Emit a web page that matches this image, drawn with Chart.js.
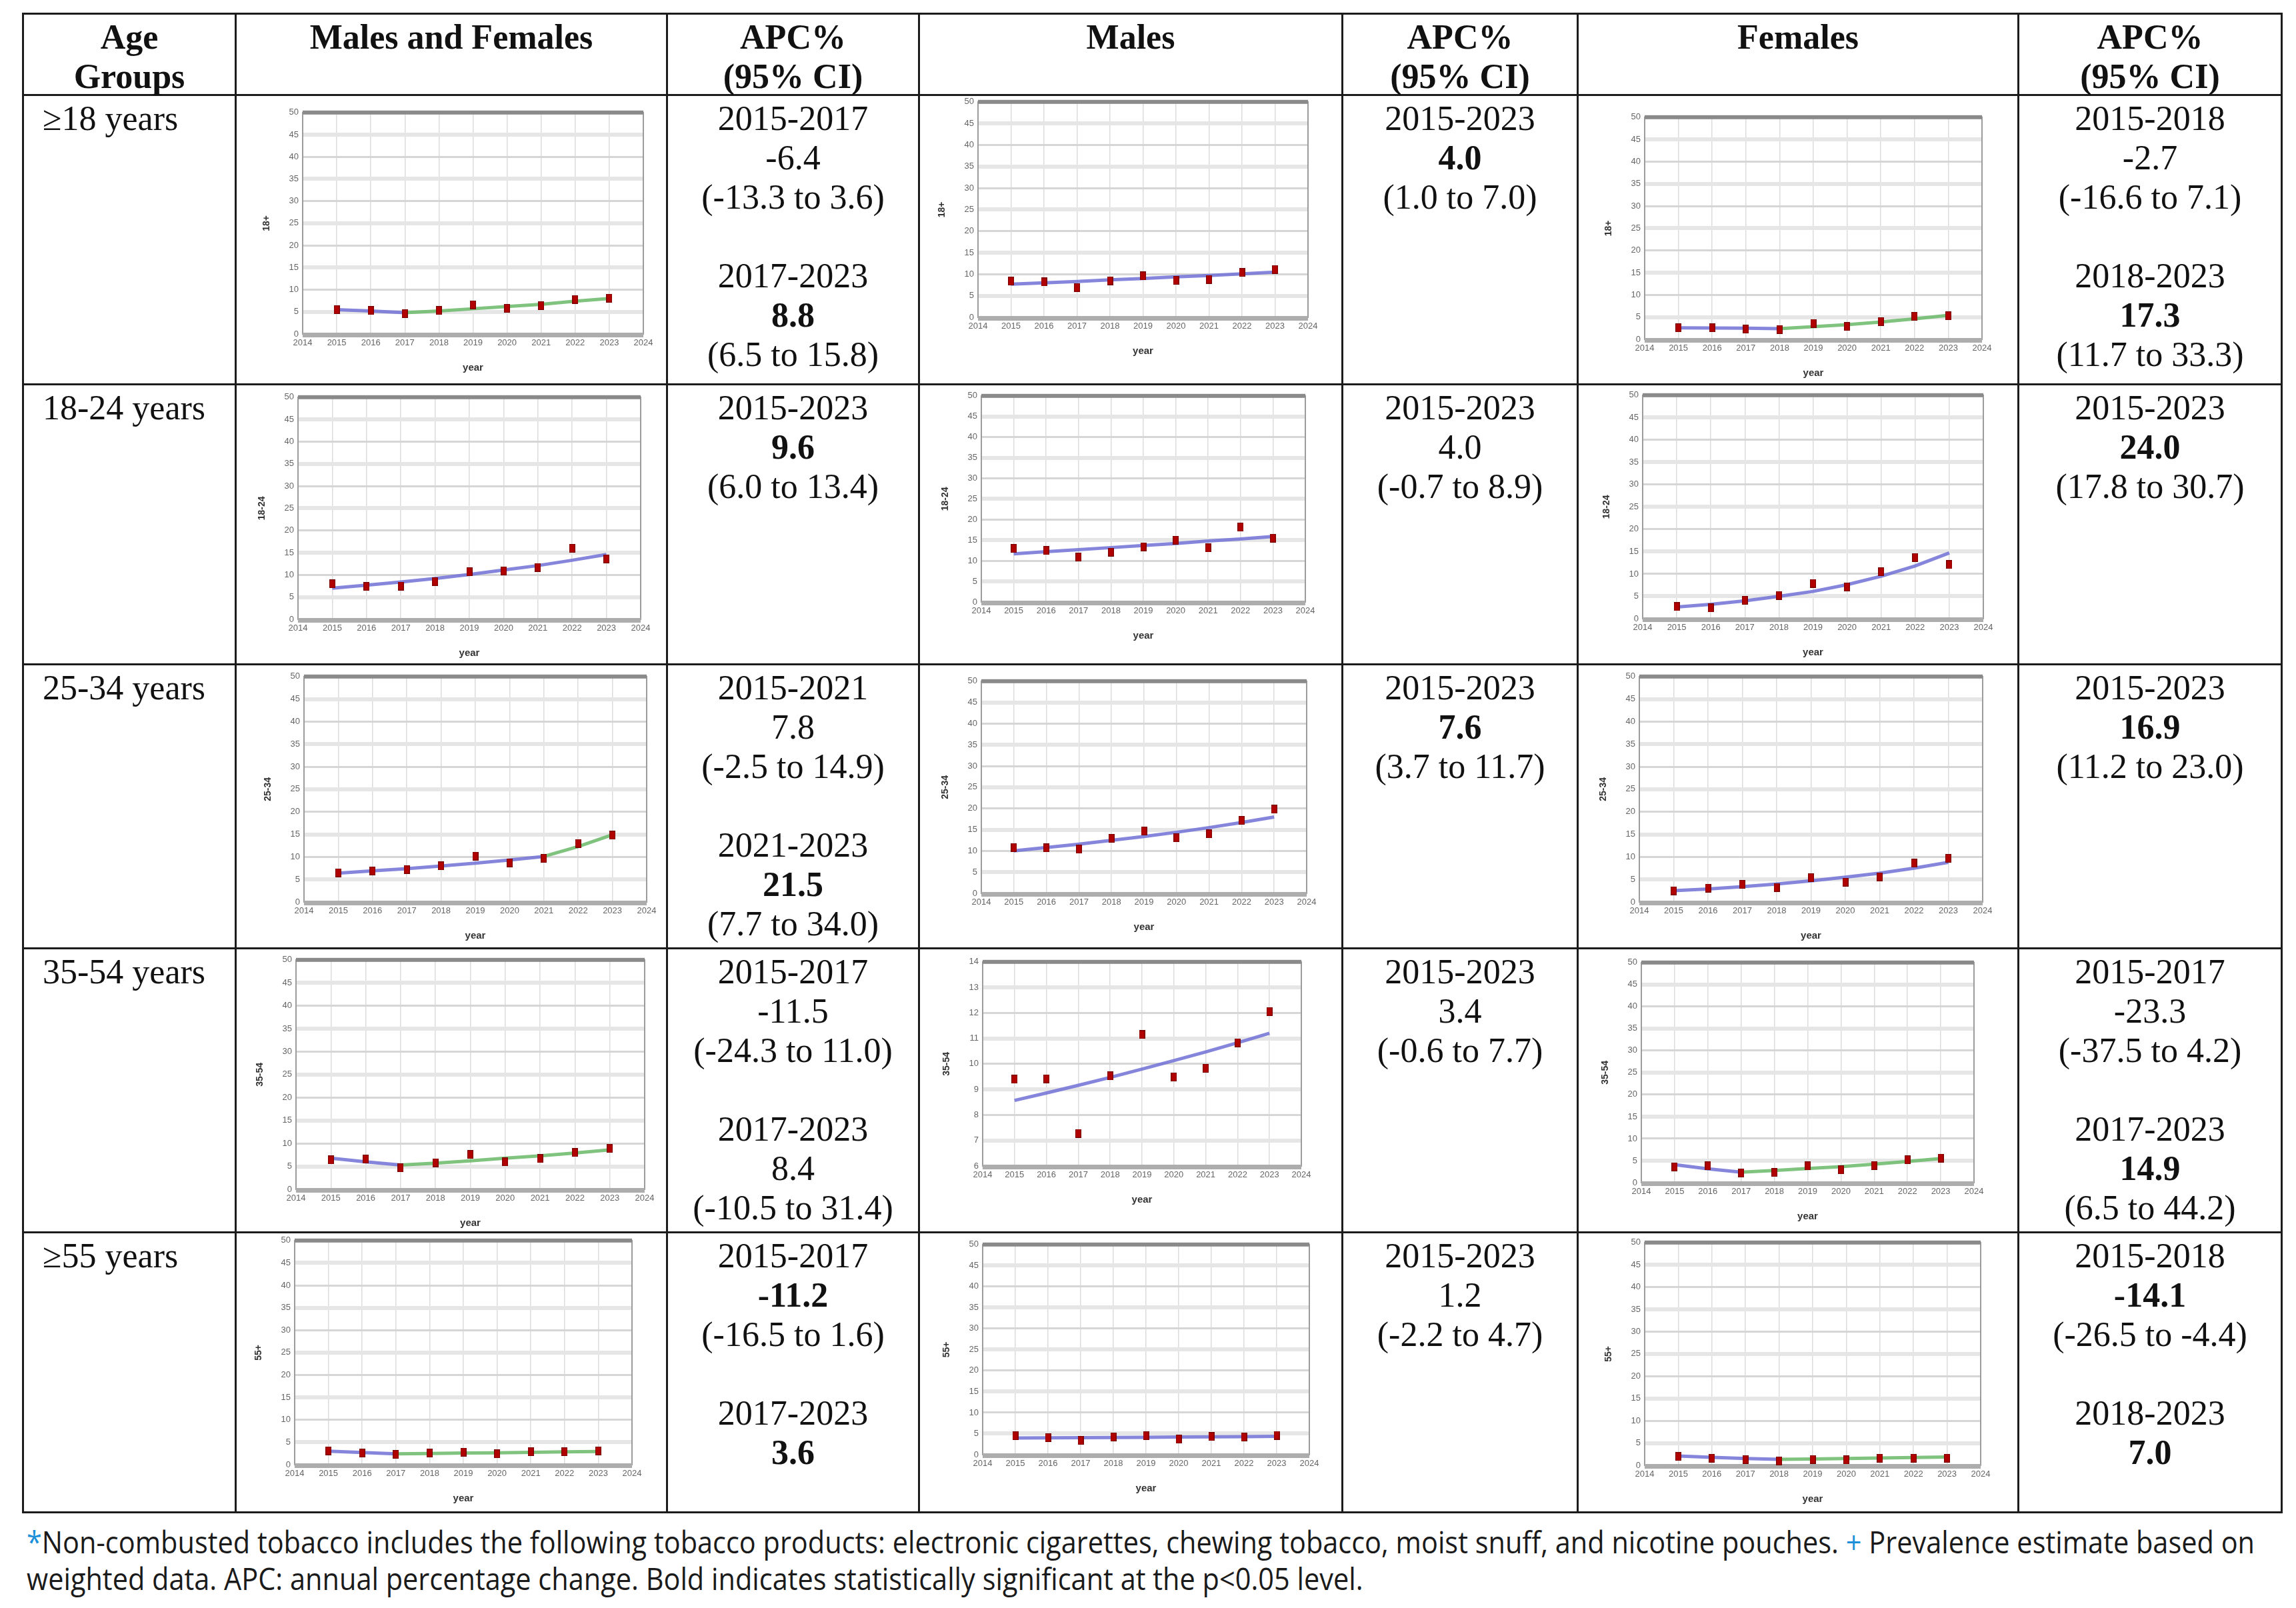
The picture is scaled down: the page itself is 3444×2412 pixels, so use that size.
<!DOCTYPE html>
<html>
<head>
<meta charset="utf-8">
<script src="https://cdn.jsdelivr.net/npm/chart.js@4.4.0/dist/chart.umd.min.js"></script>
<style>
  body { margin: 0; background: #fff; width: 3444px; height: 2412px; position: relative; overflow: hidden;
         font-family: 'Liberation Serif', 'Times New Roman', serif; color: #111; }
  .rule { position: absolute; background: #1c1c1c; }
  .cell { position: absolute; font-size: 52px; line-height: 59px; padding-top: 4px; box-sizing: border-box; }
  .head { font-weight: bold; text-align: center; }
  .apc { text-align: center; }
  .age { padding-left: 28px; }
  .chartbox { position: absolute; }
  .foot { position: absolute; left: 40px; font-family: 'Open Sans', 'Noto Sans', sans-serif; font-size: 46px;
          line-height: 55px; white-space: nowrap; display: inline-block; transform-origin: 0 50%; color: #1a1a1a; }
  .blue { color: #1b8fd9; }
</style>
</head>
<body>
<script>
// ---- data ----
const years = [2015, 2016, 2017, 2018, 2019, 2020, 2021, 2022, 2023]
const ageGroups = ['≥18 years', '18-24 years', '25-34 years', '35-54 years', '≥55 years']
const axisTitles = ['18+', '18-24', '25-34', '35-54', '55+']
const headers = ['Age<br>Groups', 'Males and Females', 'APC%<br>(95% CI)', 'Males', 'APC%<br>(95% CI)', 'Females', 'APC%<br>(95% CI)']
const xTicks = [2014, 2024]
const yTicksMain = [0, 50, 5]
const yTicksMales3554 = [6, 14, 1]

// observed prevalence, males and females
const obsBoth18 = [5.5, 5.3, 4.6, 5.3, 6.6, 5.8, 6.4, 7.8, 8.1]
const obsBoth1824 = [8.0, 7.4, 7.5, 8.5, 10.7, 10.9, 11.7, 16.0, 13.6]
const obsBoth2534 = [6.5, 6.9, 7.2, 8.0, 10.2, 8.7, 9.7, 13.0, 14.8]
const obsBoth3554 = [6.4, 6.6, 4.7, 5.8, 7.6, 6.0, 6.7, 8.0, 8.9]
const obsBoth55 = [3.1, 2.6, 2.3, 2.6, 2.8, 2.4, 2.9, 2.9, 3.1]
// modelled (joinpoint) values
const fitBoth18 = [5.5, 5.2, 4.8, 5.2, 5.7, 6.2, 6.7, 7.4, 8.0]
const fitBoth1824 = [7.0, 7.7, 8.4, 9.2, 10.1, 11.1, 12.1, 13.3, 14.6]
const fitBoth2534 = [6.4, 6.9, 7.4, 8.0, 8.6, 9.3, 10.1, 12.3, 14.9]
const fitBoth3554 = [6.8, 6.0, 5.3, 5.7, 6.2, 6.8, 7.3, 7.9, 8.6]
const fitBoth55 = [3.0, 2.7, 2.4, 2.5, 2.6, 2.65, 2.75, 2.85, 2.95]
const joinBoth = [2017, null, 2021, 2017, 2017]

// males
const obsMale18 = [8.4, 8.2, 6.9, 8.5, 9.6, 8.6, 8.8, 10.4, 11.1]
const obsMale1824 = [13.0, 12.5, 10.9, 12.1, 13.4, 15.0, 13.1, 18.2, 15.5]
const obsMale2534 = [10.8, 10.7, 10.4, 13.0, 14.7, 13.1, 14.0, 17.2, 19.8]
const obsMale3554 = [9.4, 9.42, 7.28, 9.53, 11.15, 9.49, 9.83, 10.83, 12.05]
const obsMale55 = [4.5, 4.05, 3.4, 4.2, 4.5, 3.7, 4.3, 4.2, 4.6]
const fitMale18 = [7.7, 8.0, 8.3, 8.7, 9.0, 9.4, 9.7, 10.1, 10.5]
const fitMale1824 = [11.7, 12.2, 12.7, 13.2, 13.7, 14.2, 14.8, 15.3, 15.9]
const fitMale2534 = [10.0, 10.8, 11.6, 12.5, 13.4, 14.4, 15.5, 16.7, 18.0]
const fitMale3554 = [8.57, 8.86, 9.16, 9.47, 9.8, 10.13, 10.47, 10.83, 11.2]
const fitMale55 = [3.95, 4.0, 4.05, 4.09, 4.14, 4.19, 4.24, 4.3, 4.35]
const joinMale = [null, null, null, null, null]

// females
const obsFemale18 = [2.6, 2.6, 2.3, 2.2, 3.6, 2.9, 4.0, 5.2, 5.3]
const obsFemale1824 = [2.7, 2.4, 4.1, 5.2, 7.9, 7.1, 10.5, 13.7, 12.1]
const obsFemale2534 = [2.5, 3.1, 3.9, 3.2, 5.4, 4.4, 5.6, 8.6, 9.7]
const obsFemale3554 = [3.6, 3.8, 2.2, 2.3, 3.8, 2.9, 3.9, 5.2, 5.6]
const obsFemale55 = [2.0, 1.6, 1.3, 1.0, 1.3, 1.2, 1.6, 1.6, 1.6]
const fitFemale18 = [2.6, 2.55, 2.5, 2.4, 2.85, 3.3, 3.9, 4.6, 5.4]
const fitFemale1824 = [2.6, 3.2, 4.0, 5.0, 6.1, 7.6, 9.5, 11.8, 14.7]
const fitFemale2534 = [2.5, 2.9, 3.4, 4.0, 4.7, 5.5, 6.4, 7.5, 8.8]
const fitFemale3554 = [4.1, 3.15, 2.4, 2.75, 3.2, 3.65, 4.2, 4.8, 5.5]
const fitFemale55 = [2.1, 1.8, 1.55, 1.33, 1.42, 1.52, 1.63, 1.74, 1.87]
const joinFemale = [2018, null, null, 2017, 2018]

// APC text, '!' marks bold
const apcBoth = [
  ['2015-2017', '-6.4', '(-13.3 to 3.6)', '', '2017-2023', '!8.8', '(6.5 to 15.8)'],
  ['2015-2023', '!9.6', '(6.0 to 13.4)'],
  ['2015-2021', '7.8', '(-2.5 to 14.9)', '', '2021-2023', '!21.5', '(7.7 to 34.0)'],
  ['2015-2017', '-11.5', '(-24.3 to 11.0)', '', '2017-2023', '8.4', '(-10.5 to 31.4)'],
  ['2015-2017', '!-11.2', '(-16.5 to 1.6)', '', '2017-2023', '!3.6'],
]
const apcMale = [
  ['2015-2023', '!4.0', '(1.0 to 7.0)'],
  ['2015-2023', '4.0', '(-0.7 to 8.9)'],
  ['2015-2023', '!7.6', '(3.7 to 11.7)'],
  ['2015-2023', '3.4', '(-0.6 to 7.7)'],
  ['2015-2023', '1.2', '(-2.2 to 4.7)'],
]
const apcFemale = [
  ['2015-2018', '-2.7', '(-16.6 to 7.1)', '', '2018-2023', '!17.3', '(11.7 to 33.3)'],
  ['2015-2023', '!24.0', '(17.8 to 30.7)'],
  ['2015-2023', '!16.9', '(11.2 to 23.0)'],
  ['2015-2017', '-23.3', '(-37.5 to 4.2)', '', '2017-2023', '!14.9', '(6.5 to 44.2)'],
  ['2015-2018', '!-14.1', '(-26.5 to -4.4)', '', '2018-2023', '!7.0'],
]

// ---- layout ----
const colX = [33, 352, 999, 1377, 2012, 2365, 3026, 3421]
const rowY = [19, 141, 575, 995, 1421, 1847, 2267]
const RULE = 3
// plot area [left, top, right, bottom] of each small chart, per row: both, males, females
const plotBoxes = [
  [[454, 167, 965, 501], [1467, 151, 1962, 476], [2467, 174, 2973, 509]],
  [[447, 594, 961, 929], [1472, 592, 1958, 903], [2464, 591, 2975, 928]],
  [[456, 1013, 970, 1353], [1472, 1020, 1960, 1340], [2459, 1013, 2974, 1353]],
  [[444, 1438, 967, 1784], [1474, 1441, 1952, 1749], [2462, 1442, 2961, 1774]],
  [[442, 1859, 948, 2197], [1474, 1865, 1964, 2182], [2467, 1862, 2971, 2198]],
]

function addDiv(cls, x, y, w, h, html) {
  const d = document.createElement('div')
  d.className = cls
  Object.assign(d.style, { left: x + 'px', top: y + 'px' })
  if (w != null) d.style.width = w + 'px'
  if (h != null) d.style.height = h + 'px'
  if (html != null) d.innerHTML = html
  document.body.appendChild(d)
  return d
}

// table rules
rowY.forEach(y => addDiv('rule', colX[0], y, colX[colX.length - 1] - colX[0] + RULE, RULE))
colX.forEach(x => addDiv('rule', x, rowY[0], RULE, rowY[rowY.length - 1] - rowY[0] + RULE))

// header row
headers.forEach((h, c) => addDiv('cell head', colX[c] + RULE, rowY[0] + RULE, colX[c + 1] - colX[c] - RULE, null, h))

const lineHtml = lines => lines.map(s => s === '' ? '&nbsp;' : (s[0] === '!' ? '<b>' + s.slice(1) + '</b>' : s)).join('<br>')

ageGroups.forEach((g, r) => {
  const top = rowY[r + 1] + RULE
  addDiv('cell age', colX[0] + RULE, top, colX[1] - colX[0] - RULE, null, g)
  ;[apcBoth, apcMale, apcFemale].forEach((apc, k) => {
    const c = 2 + k * 2
    addDiv('cell apc', colX[c] + RULE, top, colX[c + 1] - colX[c] - RULE, null, lineHtml(apc[r]))
  })
})

// ---- charts ----
Chart.defaults.font.family = "'Liberation Sans', Arial, sans-serif"

const framePlugin = {
  id: 'frame',
  beforeDatasetsDraw(chart) {
    const { ctx, chartArea: a } = chart
    ctx.save()
    ctx.strokeStyle = '#9c9c9c'
    ctx.lineWidth = 2
    ctx.strokeRect(a.left, a.top, a.right - a.left, a.bottom - a.top)
    ctx.fillStyle = '#8a8a8a'
    ctx.fillRect(a.left, a.top - 3, a.right - a.left, 6)
    ctx.fillStyle = '#adadad'
    ctx.fillRect(a.left, a.bottom - 2, a.right - a.left, 7)
    ctx.restore()
  }
}

// red marker, a small upright block
const marker = document.createElement('canvas')
marker.width = 9
marker.height = 13
const mctx = marker.getContext('2d')
mctx.fillStyle = '#780000'
mctx.fillRect(0, 0, 9, 13)
mctx.fillStyle = '#b00000'
mctx.fillRect(1, 1, 7, 11)

const PAD_L = 62, PAD_T = 12, PAD_R = 26, PAD_B = 64

function makeChart(box, obs, fit, join, title, yr) {
  const [L, T, R, B] = box
  const w = R - L + PAD_L + PAD_R
  const h = B - T + PAD_T + PAD_B
  const wrap = addDiv('chartbox', L - PAD_L, T - PAD_T, w, h)
  const cv = document.createElement('canvas')
  wrap.appendChild(cv)

  const first = years[0], last = years[years.length - 1]
  const pts = (arr, from, to) => years.map((y, i) => ({ x: y, y: arr[i] })).filter(p => p.x >= from && p.x <= to)
  const lineStyle = color => ({ type: 'line', borderColor: color, borderWidth: 5, pointRadius: 0, fill: false, tension: 0 })

  const datasets = [
    { type: 'scatter', data: pts(obs, first, last), pointStyle: marker, pointRadius: 6 },
    { ...lineStyle('rgba(112,112,214,0.85)'), data: pts(fit, first, join || last) },
  ]
  if (join) datasets.push({ ...lineStyle('rgba(104,184,104,0.85)'), data: pts(fit, join, last) })

  new Chart(cv, {
    data: { datasets },
    plugins: [framePlugin],
    options: {
      responsive: true,
      maintainAspectRatio: false,
      animation: false,
      layout: { padding: { left: 0, top: PAD_T, right: PAD_R, bottom: 0 } },
      plugins: { legend: { display: false }, tooltip: { enabled: false } },
      scales: {
        x: {
          type: 'linear', min: xTicks[0], max: xTicks[1],
          ticks: { stepSize: 1, color: '#666', font: { size: 13 }, padding: 6, callback: v => String(v) },
          title: { display: true, text: 'year', color: '#333', font: { size: 15, weight: 'bold' }, padding: { top: 6 } },
          grid: { color: '#dcdcdc', lineWidth: 1.5, drawTicks: false },
          border: { display: false },
          afterFit: s => { s.height = PAD_B },
        },
        y: {
          type: 'linear', min: yr[0], max: yr[1],
          ticks: { stepSize: yr[2], color: '#666', font: { size: 13 }, padding: 6 },
          title: { display: true, text: title, color: '#333', font: { size: 14, weight: 'bold' }, padding: 0 },
          grid: {
            drawTicks: false,
            color: c => (c.index % 2 === 1 ? '#e6e6e6' : '#d6d6d6'),
            lineWidth: c => (c.index % 2 === 1 ? 6 : 3),
          },
          border: { display: false },
          afterFit: s => { s.width = PAD_L },
        },
      },
    },
  })
}

const obsBoth = [obsBoth18, obsBoth1824, obsBoth2534, obsBoth3554, obsBoth55]
const fitBoth = [fitBoth18, fitBoth1824, fitBoth2534, fitBoth3554, fitBoth55]
const obsMale = [obsMale18, obsMale1824, obsMale2534, obsMale3554, obsMale55]
const fitMale = [fitMale18, fitMale1824, fitMale2534, fitMale3554, fitMale55]
const obsFemale = [obsFemale18, obsFemale1824, obsFemale2534, obsFemale3554, obsFemale55]
const fitFemale = [fitFemale18, fitFemale1824, fitFemale2534, fitFemale3554, fitFemale55]

ageGroups.forEach((g, r) => {
  makeChart(plotBoxes[r][0], obsBoth[r], fitBoth[r], joinBoth[r], axisTitles[r], yTicksMain)
  makeChart(plotBoxes[r][1], obsMale[r], fitMale[r], joinMale[r], axisTitles[r], r === 3 ? yTicksMales3554 : yTicksMain)
  makeChart(plotBoxes[r][2], obsFemale[r], fitFemale[r], joinFemale[r], axisTitles[r], yTicksMain)
})

// ---- footnote ----
const f1 = addDiv('foot', 40, 2285, null, null,
  '<span class="blue">*</span>Non-combusted tobacco includes the following tobacco products: electronic cigarettes, chewing tobacco, moist snuff, and nicotine pouches. <span class="blue">+</span> Prevalence estimate based on')
const f2 = addDiv('foot', 40, 2340, null, null,
  'weighted data. APC: annual percentage change. Bold indicates statistically significant at the p&lt;0.05 level.')
const fitFoot = () => {
  const k = 3342 / f1.offsetWidth
  f1.style.transform = 'scaleX(' + k + ')'
  f2.style.transform = 'scaleX(' + k + ')'
}
fitFoot()
if (document.fonts) document.fonts.ready.then(fitFoot)
</script>
</body>
</html>
